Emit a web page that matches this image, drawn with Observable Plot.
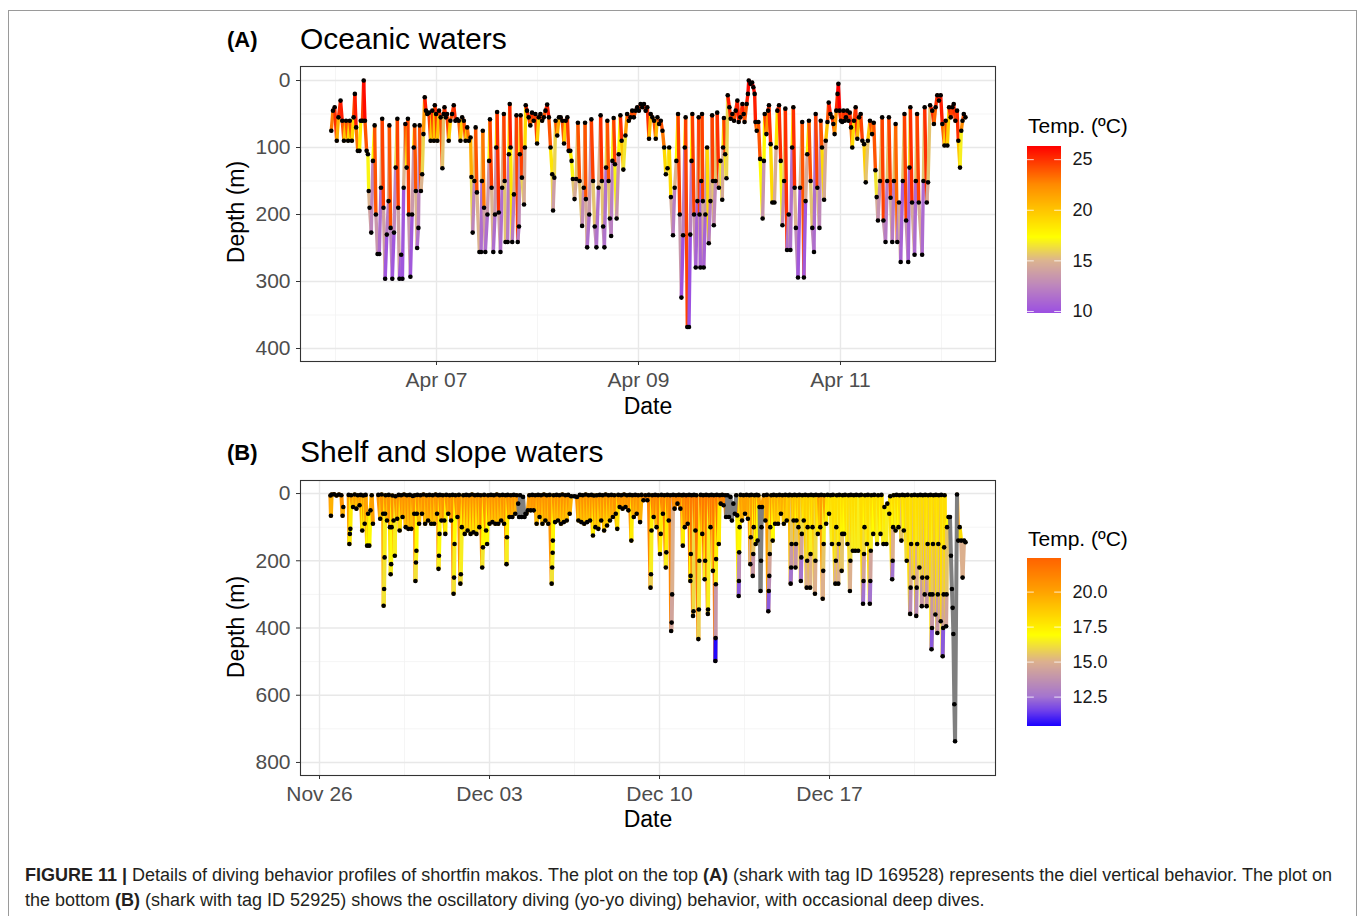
<!DOCTYPE html>
<html><head><meta charset="utf-8">
<script src="https://cdn.jsdelivr.net/npm/d3@7"></script>
<script src="https://cdn.jsdelivr.net/npm/@observablehq/plot@0.6"></script>
<style>
body{margin:0;background:#fff;font-family:"Liberation Sans",Arial,sans-serif;}
#fig{position:relative;width:1358px;height:916px;overflow:hidden;background:#fff;}
.abs{position:absolute;line-height:1;white-space:nowrap;color:#000;}
.cap{position:absolute;left:25px;top:863px;font-size:18px;line-height:25px;color:#231f20;white-space:nowrap;}
</style></head><body><div id="fig">
<div style="position:absolute;left:8px;top:10px;width:1347px;height:940px;border:1px solid #9a9a9a;"></div>
<div class="abs" style="left:227px;top:29px;font-size:22px;font-weight:bold;">(A)</div>
<div class="abs" style="left:300px;top:24px;font-size:30px;">Oceanic waters</div>
<div class="abs" style="left:227px;top:442px;font-size:22px;font-weight:bold;">(B)</div>
<div class="abs" style="left:300px;top:437px;font-size:30px;">Shelf and slope waters</div>
<div class="abs" style="left:236px;top:212px;font-size:23px;transform:translate(-50%,-50%) rotate(-90deg);">Depth (m)</div>
<div class="abs" style="left:236px;top:627px;font-size:23px;transform:translate(-50%,-50%) rotate(-90deg);">Depth (m)</div>
<div class="abs" style="left:648px;top:395px;font-size:23px;transform:translateX(-50%);">Date</div>
<div class="abs" style="left:648px;top:808px;font-size:23px;transform:translateX(-50%);">Date</div>
<div class="abs" style="left:1028px;top:115px;font-size:21px;">Temp. (ºC)</div>
<div class="abs" style="left:1028px;top:528px;font-size:21px;">Temp. (ºC)</div>
<div id="pA" style="position:absolute;left:200px;top:55px;"></div>
<div id="pB" style="position:absolute;left:200px;top:469px;"></div>
<div id="lA" style="position:absolute;left:1027px;top:136px;"></div>
<div id="lB" style="position:absolute;left:1027px;top:548px;"></div>
<div class="cap"><b>FIGURE 11 |</b> Details of diving behavior profiles of shortfin makos. The plot on the top <b>(A)</b> (shark with tag ID 169528) represents the diel vertical behavior. The plot on<br>the bottom <b>(B)</b> (shark with tag ID 52925) shows the oscillatory diving (yo-yo diving) behavior, with occasional deep dives.</div>
</div>
<script>
// ---- Panel A: [hours since Apr 05 00:00, depth (m), temperature (°C)]
const profileA = [
[23.0,75,23],[23.4,45,25],[23.8,40,25],[24.3,90,21],[24.7,55,25],[25.2,30,25.5],[25.6,60,24],[26.0,90,20],[26.5,60,24],[27.0,90,19],[27.4,60,24],[27.9,90,19],[28.3,55,24],[28.6,20,25.5],[28.9,70,23],[29.3,105,18],[29.7,105,18],[30.0,60,24],[30.4,60,24.5],[30.7,0,26],[31.0,60,24],[31.4,105,17],[31.7,110,17],
[31.9,165,15],[32.1,190,14],[32.5,227,12.5],[32.9,120,17.5],[33.3,67,24],[33.6,200,13.5],[34.0,259,11.3],[34.4,259,11.3],[34.8,160,15],[35.1,57,24.5],[35.4,190,14],[35.8,296,10.2],[36.2,230,12],[36.6,180,14.5],[36.8,67,24],[37.1,220,12.5],[37.5,296,10.2],[37.9,227,12.5],[38.3,130,16],[38.7,57,24.5],[38.9,190,14],[39.2,296,10.2],[39.6,260,11],[39.9,296,10.2],[40.2,160,15],[40.6,65,24],[40.9,130,17],[41.2,57,24.5],[41.4,200,13.5],[41.8,293,10.3],[42.2,200,13.5],[42.6,100,19],[42.8,67,24],[43.1,165,15],[43.4,250,11.5],[43.7,220,12.5],[44.0,67,24],[44.3,165,15],[44.6,140,16],[44.9,80,22],[45.2,25,25.5],
[45.5,45,25],[45.8,50,24.5],[46.2,48,24.5],[46.6,90,20],[47.0,45,25],[47.4,90,20],[47.6,37,25],[47.9,50,24.5],[48.2,90,20],[48.6,45,24.5],[49.0,55,24],[49.4,131,15.5],[49.7,50,24],[49.9,40,25],[50.2,55,24],[50.5,50,24.5],[50.9,90,19.5],[51.3,60,24],[51.7,50,24.5],[52.1,37,25],[52.5,60,24],[52.9,58,24],[53.3,60,23.5],[53.7,90,19.5],[54.1,55,24],[54.5,60,24],[54.9,90,20],[55.3,70,23],[55.7,90,20],
[56.1,85,21],[56.3,144,16],[56.6,227,12.5],[57.0,150,15.5],[57.3,70,24],[57.6,167,15],[58.2,256,11.3],[58.6,256,11.3],[58.8,150,15.5],[59.0,75,23],[59.3,190,14],[59.6,256,11.3],[60.1,200,13.5],[60.5,120,17],[60.7,58,24.5],[61.1,160,15],[61.5,256,11.3],[61.9,200,13.5],[62.2,100,19],[62.4,47,25],[62.8,197,14],[63.2,256,11.3],[63.6,160,15],[64.0,50,24.5],[64.2,150,15.5],[64.4,241,12],[64.9,241,12],[65.2,110,18],[65.4,35,25.5],[65.6,100,18.5],[66.0,241,12],[66.4,170,14.5],[67.0,52,24.5],[67.3,241,12],[67.6,218,12.8],[67.8,110,17],[68.0,52,24.5],[68.3,145,16],[68.8,185,14.5],[69.0,100,19],[69.2,37,25.5],
[69.5,45,25],[69.9,55,24.5],[70.3,67,23.5],[70.7,48,25],[71.1,60,24],[71.5,50,24.5],[71.9,94,19.5],[72.3,55,24],[72.7,50,24.5],[73.1,60,24],[73.5,55,24],[73.9,45,25],[74.3,36,25.5],[74.7,55,24],[75.1,100,18.5],[75.5,140,16],[75.7,194,13.8],[76.0,145,16],[76.3,60,24],[76.7,82,21],[77.1,55,24],[77.5,55,24.5],[77.9,60,24],[78.3,94,19.5],[78.7,60,24],[79.1,55,24.5],[79.4,105,18],
[79.8,105,18],[80.1,120,17],[80.4,147,15.5],[80.8,177,14.5],[81.2,147,15.5],[81.6,63,24],[82.0,150,15.5],[82.6,217,12.8],[83.0,160,15],[83.3,63,24],[83.5,177,14.5],[83.8,249,11.5],[84.3,200,13.5],[84.8,58,24.5],[85.2,150,15.5],[85.6,218,12.8],[86.0,249,11.5],[86.5,160,15],[87.0,52,25],[87.3,150,15.5],[87.6,218,12.8],[87.9,249,11.5],[88.3,130,16],[88.6,60,24],[88.9,150,15.5],[89.2,206,13.3],[89.5,232,12.2],[89.8,120,17],[90.1,56,24.5],[90.4,125,17],[90.8,206,13.3],[91.3,110,17.5],[91.7,52,25],[92.0,90,20],[92.4,133,16.5],[92.9,82,21.5],
[93.3,50,24.5],[93.7,60,24],[94.1,55,24],[94.5,45,24.5],[94.9,55,24],[95.3,45,24.5],[95.7,40,25],[96.1,45,24.5],[96.5,35,25],[96.9,40,25],[97.3,35,25],[97.7,45,24.5],[98.1,40,25],[98.5,87,20.5],[98.9,50,24.5],[99.3,55,24],[99.7,60,24],[100.1,87,20.5],[100.5,55,24],[100.9,65,23.5],[101.3,60,24],[101.7,75,23],[102.1,100,19],[102.5,140,16],
[102.9,131,16.5],[103.3,100,19],[103.7,174,14.5],[104.2,231,12.2],[104.6,160,15],[105.0,120,17.5],[105.4,50,24.5],[105.8,200,13.5],[106.2,324,10],[106.6,231,12.2],[107.0,100,19],[107.2,55,24.5],[107.6,368,9.9],[108.0,368,9.9],[108.3,230,12.2],[108.6,120,17.5],[108.8,50,24.5],[109.2,200,13.5],[109.6,279,10.8],[110.0,180,14.5],[110.3,55,24.5],[110.5,200,13.5],[110.7,279,10.8],[110.9,150,15.5],[111.1,50,24.5],[111.3,180,14.5],[111.5,279,10.8],[111.9,200,13.5],[112.3,100,19],[112.7,243,12],[113.1,180,14.5],[113.5,52,24.5],[113.7,150,15.5],[113.9,216,12.8],[114.3,150,15.5],[114.7,48,25],[115.1,160,15],[115.5,120,17],[115.9,178,14.5],[116.1,100,19],[116.3,56,24.5],[116.6,110,18],[116.9,146,16],[117.2,22,25.5],
[117.6,40,25],[117.9,57,24.5],[118.3,50,24.5],[118.7,60,24],[119.1,45,25],[119.5,30,25.5],[119.8,62,24],[120.2,55,24.5],[120.7,35,25.5],[121.0,50,24.5],[121.2,62,24],[121.7,35,25.5],[122.0,20,26],[122.2,0,26.3],[122.6,5,26.3],[123.0,3,26.3],[123.3,10,26],[123.6,20,25.5],[123.8,62,24],[124.1,75,22.5],
[124.5,62,24],[124.9,117,17.5],[125.5,206,13.3],[125.8,120,17.5],[126.0,50,24.5],[126.4,80,22],[126.8,45,25],[127.0,37,25],[127.4,95,19],[127.8,182,14.5],[128.3,182,14.5],[128.7,100,18.5],[129.0,45,25],[129.4,37,25],[129.8,120,17],[130.2,216,12.8],[130.6,150,15.5],[130.9,42,25],[131.3,253,11.5],[131.7,200,13.5],[132.1,253,11.5],[132.5,100,19],[132.8,40,25],[133.1,160,15],[133.4,220,12.7],[133.9,294,10.3],[134.4,160,15],[134.9,62,24],[135.3,294,10.3],[135.7,180,14.5],[136.1,110,17.5],[136.5,60,24],[136.9,150,15.5],[137.3,220,12.7],[137.7,256,11.3],[138.1,50,24.5],[138.5,160,15],[139.0,220,12.7],[139.3,60,24],[139.6,100,19],[140.1,178,14.5],[140.5,90,20],[140.9,62,24],
[141.2,33,25.5],[141.6,50,24.5],[142.0,55,24.5],[142.3,65,23.5],[142.6,80,22],[143.0,45,25],[143.3,20,26],[143.5,5,26.3],[143.8,45,25],[144.1,60,24],[144.4,62,24],[144.7,45,25],[145.0,60,24],[145.3,55,24.5],[145.6,45,25],[145.9,60,24],[146.2,48,25],[146.5,70,23],[146.8,100,19],[147.2,60,24],[147.6,40,25],[148.0,87,20.5],[148.4,55,24],[148.8,50,24.5],[149.2,90,20],
[149.6,95,19.5],[150.0,152,15.5],[150.5,90,20],[151.0,60,24],[151.5,80,22],[151.9,63,24],[152.3,134,16.5],[152.6,174,14.5],[152.9,209,13.2],[153.4,150,15.5],[153.9,55,24.5],[154.2,209,13.2],[154.7,241,12],[155.1,150,15.5],[155.5,55,24.5],[155.9,175,14.5],[156.3,241,12],[156.7,150,15.5],[157.1,65,23.5],[157.5,241,12],[157.9,182,14.5],[158.3,271,10.8],[158.8,150,15.5],[159.2,50,24.5],[159.6,209,13.2],[160.1,271,10.8],[160.4,130,16.5],[160.6,40,25],[161.0,182,14.5],[161.6,260,11.2],[161.9,150,15.5],[162.2,50,24.5],[162.6,182,14.5],[163.4,260,11.2],[163.7,150,15.5],[164.0,40,25],[164.5,182,14.5],[164.8,152,15.5],[165.3,37,25.5],
[165.8,45,25],[166.2,65,23.5],[166.6,40,25],[167.0,22,25.5],[167.4,30,25.5],[167.8,22,25.5],[168.2,65,23.5],[168.7,97,19.5],[169.0,60,24],[169.4,97,19.5],[169.8,40,25],[170.2,55,24.5],[170.6,40,25],[170.9,35,25],[171.3,60,24],[171.7,45,25],[172.0,90,20],[172.4,130,16.8],[172.7,75,22.5],[173.0,60,24],[173.3,50,24.5],[173.7,55,24.5]
];

// ---- Panel B: [days since Nov 26 00:00, depth (m), temperature (°C); null = no reading]
const profileB = [
[0.45,6,20.5],[0.47,66,19.5],[0.5,3,20.5],[0.6,2,20.5],[0.7,6,20.5],[0.8,3,20.5],[0.9,5,20.5],[0.95,66,19.5],[0.98,40,20],[0.99,null,null],
[1.2,4,20],[1.23,150,17.5],[1.25,120,17],[1.27,105,17.5],[1.3,5,20],[1.38,40,19],[1.45,3,20],[1.52,45,19],[1.58,5,20],[1.65,35,19.5],[1.7,4,20],[1.76,110,17.5],[1.8,6,20],[1.86,90,18],[1.9,4,20],[1.96,155,17],[2.0,60,18.5],[2.05,155,17],[2.1,50,19],[2.15,5,20],[2.2,90,18],[2.21,null,null],
[2.42,4,20.5],[2.5,75,19],[2.56,3,20.5],[2.62,60,19.5],[2.64,334,16.2],[2.66,284,16.2],[2.68,190,16.5],[2.7,60,17.5],[2.72,5,20.5],[2.78,80,19],[2.85,4,20.5],[2.9,100,18],[2.93,240,16.5],[2.95,210,16.8],[2.97,100,17.5],[3.0,6,20.5],[3.05,80,19],[3.1,185,16.5],[3.13,8,20.5],[3.2,75,19],[3.26,4,20.5],[3.3,110,18],
[3.36,5,20.5],[3.42,70,19.5],[3.48,3,20.5],[3.55,100,19],[3.6,5,20.5],[3.66,105,19],[3.72,4,20.5],[3.78,105,19],[3.84,7,20.5],[3.9,60,19.5],[3.93,5,20.5],[3.95,260,16.2],[3.97,205,16.5],[3.99,170,17],[4.01,60,17.5],[4.03,4,20.5],
[4.1,90,19],[4.16,5,20.5],[4.22,60,19.5],[4.28,3,20.5],[4.35,90,19],[4.41,5,20.5],[4.47,80,19.5],[4.53,4,20.5],[4.6,90,19],[4.66,5,20.5],[4.72,90,19],[4.78,3,20.5],[4.84,60,19.5],[4.88,5,20.5],[4.9,224,16.5],[4.92,185,16.8],[4.94,120,17.2],[4.96,4,20.5],
[5.02,80,19.5],[5.08,5,20.5],[5.14,80,19.5],[5.18,120,17.5],[5.22,4,20.5],[5.3,60,19.5],[5.36,5,20.5],[5.42,80,19.5],[5.48,4,20.5],[5.52,298,16.2],[5.54,250,16.5],[5.56,150,17],[5.6,5,20.5],[5.68,70,19.5],[5.74,4,20.5],[5.8,268,16.2],[5.82,240,16.5],[5.86,100,17.5],[5.92,5,20.5],
[5.98,120,18],[6.04,4,20.5],[6.1,110,18.5],[6.16,5,20.5],[6.22,120,18],[6.28,3,20.5],[6.34,115,18],[6.4,5,20.5],[6.46,120,18],[6.52,4,20.5],[6.58,100,18.5],[6.64,5,20.5],[6.7,220,16.3],[6.73,160,17],[6.78,4,20.5],[6.86,110,17.5],[6.9,150,17],[6.94,5,20.5],
[7.0,90,19],[7.06,4,20.5],[7.12,85,19],[7.18,5,20.5],[7.24,90,19],[7.3,3,20.5],[7.36,90,19],[7.42,5,20.5],[7.48,80,19],[7.54,4,20.5],[7.6,90,19],[7.66,5,20.5],[7.7,210,16.5],[7.72,130,17.5],[7.75,4,20.5],[7.82,70,19.5],[7.88,5,20.5],[7.94,70,19.5],[8.0,4,20.5],[8.06,60,19.5],[8.12,5,20.5],
[8.18,30,null],[8.22,70,null],[8.26,5,null],[8.32,70,null],[8.38,10,null],[8.44,70,null],[8.48,60,null],
[8.52,60,20],[8.58,50,20],[8.64,5,20.5],[8.7,50,20],[8.76,4,20.5],[8.82,50,20],[8.88,5,20.5],[8.94,90,19],[9.0,4,20.5],[9.06,70,19.5],[9.12,5,20.5],[9.18,90,19],[9.24,3,20.5],[9.3,80,19.5],[9.36,5,20.5],[9.42,90,19],[9.48,4,20.5],[9.56,268,16.2],[9.58,220,16.5],[9.6,176,16.8],[9.61,140,17.2],[9.64,5,20.5],
[9.7,85,19],[9.76,4,20.5],[9.82,80,19],[9.88,5,20.5],[9.94,90,19],[10.0,3,20.5],[10.06,85,19],[10.12,5,20.5],[10.18,80,19],[10.24,4,20.5],[10.3,60,19.5],[10.36,8,null],[10.5,8,null],[10.6,10,20.5],[10.66,80,19],[10.72,4,20.5],[10.78,85,19],[10.84,5,20.5],[10.9,90,19],[10.96,3,20.5],[11.02,85,19],[11.08,5,20.5],[11.14,80,19],[11.2,4,20.5],[11.26,125,17.5],[11.3,6,20.5],
[11.36,100,18.5],[11.42,5,20.5],[11.48,105,18.5],[11.54,4,20.5],[11.6,80,19],[11.66,5,20.5],[11.72,110,18.5],[11.78,3,20.5],[11.84,95,18.5],[11.9,5,20.5],[11.96,80,19],[12.02,4,20.5],[12.08,70,19.5],[12.14,5,20.5],[12.2,60,19.5],[12.26,105,18],[12.3,4,20.5],[12.36,40,20],[12.42,5,20.5],[12.48,45,20],[12.54,3,20.5],[12.6,40,20],[12.66,5,20.5],[12.72,50,20],[12.78,4,20.5],[12.84,140,17.5],[12.88,5,20.5],[12.94,70,19.5],[13.0,4,20.5],[13.06,60,19.5],[13.12,5,20.5],
[13.2,85,19.5],[13.26,4,21],[13.34,20,21],[13.42,5,21],[13.5,20,21],[13.56,4,21],[13.63,280,15.8],[13.65,240,16.5],[13.67,110,17.5],[13.7,5,21],[13.76,70,20],[13.82,4,21],[13.88,100,19],[13.94,5,21],[14.02,180,17.5],[14.05,120,17.5],[14.08,4,21],[14.14,60,20],[14.2,5,21],[14.26,220,16.5],[14.28,175,17.5],[14.32,4,21],[14.38,80,19.5],[14.44,5,21],[14.48,409,14.5],[14.5,384,14.5],[14.52,300,15],[14.56,4,21],[14.62,45,20.5],[14.68,5,21],[14.74,30,21],[14.8,4,21],[14.86,45,20.5],[14.92,5,21],
[14.96,155,17.5],[14.99,4,21],[15.04,100,20],[15.1,5,21.5],[15.16,90,20],[15.22,4,21.5],[15.27,260,16.5],[15.28,245,17],[15.29,180,17.5],[15.32,5,21.5],[15.38,364,15.5],[15.4,350,16],[15.42,4,21.5],[15.48,110,19],[15.52,5,21.5],[15.6,433,15.8],[15.62,345,16.2],[15.64,200,17.5],[15.7,4,21.5],[15.76,120,18],[15.8,5,21.5],[15.86,255,16.5],[15.88,200,17.5],[15.92,4,21.5],[15.99,358,16],[16.0,345,16.5],[16.04,5,21.5],[16.1,100,19.5],[16.14,4,21.5],[16.2,230,16.5],[16.24,5,21.5],[16.3,498,10.5],[16.31,430,14],[16.32,270,16.5],[16.33,195,17.5],[16.36,4,21.5],[16.44,150,17.5],[16.48,5,21.5],
[16.52,30,21],[16.58,4,21],[16.64,35,21],[16.7,5,21],[16.74,70,null],[16.8,5,null],[16.86,70,null],[16.92,10,null],[16.98,80,null],[17.04,30,null],[17.1,60,null],
[17.16,5,20],[17.2,65,17.5],[17.26,305,12],[17.27,260,13.5],[17.28,175,17],[17.3,100,17.5],[17.34,4,20],[17.4,80,19.5],[17.46,5,20],[17.52,60,20],[17.58,4,20],[17.64,75,19.5],[17.7,5,20],[17.74,210,15],[17.76,130,16.5],[17.78,4,20],[17.84,245,14],[17.86,180,15.5],[17.88,100,17],[17.91,5,20],[17.96,150,17],[18.0,4,20],[18.04,140,17],[18.07,5,20],
[18.12,40,null],[18.16,290,null],[18.18,200,null],[18.2,100,null],[18.22,40,20],
[18.3,5,20],[18.36,80,19],[18.42,4,20],[18.48,350,12],[18.5,290,13.5],[18.52,245,14.5],[18.54,180,15.5],[18.56,100,17],[18.6,5,20],[18.66,140,17],[18.7,4,19.5],[18.76,90,18.5],[18.82,5,19.5],[18.88,90,18.5],[18.94,4,19.5],[19.0,60,19],[19.06,5,19.5],[19.12,90,18.5],[19.18,4,19.5],[19.24,80,18.5],[19.3,5,19.5],
[19.36,4,19],[19.4,268,12.5],[19.42,220,14],[19.44,150,15.5],[19.46,5,19],[19.52,80,18],[19.56,4,19],[19.6,220,14],[19.62,150,15.5],[19.64,80,17],[19.66,5,19],[19.72,100,17.5],[19.76,4,19],[19.82,260,12.5],[19.84,190,14.5],[19.86,120,16],[19.88,5,18.5],
[19.94,80,17.5],[20.0,4,18.5],[20.06,280,15],[20.08,200,16],[20.1,100,17.5],[20.12,5,18.5],[20.2,280,15],[20.22,180,16.5],[20.24,4,18.5],[20.3,100,17.5],[20.34,5,18.5],[20.4,298,15],[20.42,200,16],[20.44,4,18.5],[20.52,120,17.5],[20.56,5,20],[20.62,100,18],[20.66,4,20],[20.72,313,15],[20.74,230,15.5],[20.76,150,16.5],[20.78,5,20],
[20.86,90,17.5],[20.92,4,18],[20.98,60,17.5],[21.04,5,18],[21.1,150,16.5],[21.14,4,18],[21.24,268,15],[21.26,200,16],[21.28,100,17.5],[21.3,5,18],[21.36,268,15],[21.38,150,16.5],[21.4,4,18],[21.5,230,15.5],[21.52,120,17],[21.54,5,18],[21.6,120,17],[21.64,4,18],[21.74,150,16.5],[21.78,5,18],[21.84,290,15],[21.86,200,16],[21.88,4,18],
[21.96,170,16.5],[22.0,5,18],[22.06,170,16.5],[22.1,4,18],[22.18,170,16.5],[22.22,5,18],[22.3,4,18],[22.38,328,12.5],[22.4,260,14.5],[22.42,180,16],[22.44,100,17],[22.46,5,18],[22.54,150,16.5],[22.58,4,18],[22.66,328,12.5],[22.68,260,14.5],[22.7,170,16.5],[22.72,5,18],
[22.8,120,17],[22.84,4,18],[22.96,150,16.5],[23.0,5,18],[23.1,120,17],[23.14,4,18],[23.22,150,16.5],[23.26,40,17.5],[23.34,150,16.5],[23.38,30,17.5],[23.46,60,17.5],[23.5,8,18],[23.58,255,12.5],[23.6,200,15],[23.62,100,17],[23.64,5,18],
[23.72,110,16.5],[23.76,4,18],[23.84,100,17],[23.88,5,18],[23.96,140,15.5],[24.0,4,18],[24.06,110,17],[24.1,5,18],[24.18,200,16],[24.22,4,18],[24.32,358,13.5],[24.34,280,15],[24.36,150,16.5],[24.38,5,18],[24.46,250,15.5],[24.5,4,18],[24.57,364,13.5],[24.59,280,15],[24.61,150,16.5],[24.63,5,18],[24.7,220,16],[24.74,4,18],[24.8,335,14],[24.82,250,15.5],[24.84,5,18],[24.92,300,15],[24.94,4,18],[25.0,335,14],[25.02,250,15.5],[25.04,150,16.5],[25.06,5,18],
[25.14,300,15],[25.16,4,18],[25.2,463,12],[25.22,400,14],[25.24,300,15.5],[25.26,150,16.5],[25.28,5,18],[25.36,360,14.5],[25.38,4,18],[25.44,415,14],[25.46,300,15.5],[25.48,150,16.5],[25.5,5,18],[25.58,380,14.5],[25.6,4,18],[25.66,484,12],[25.68,400,14.5],[25.7,300,15.5],[25.72,160,16.5],[25.74,5,18],[25.8,395,14.5],[25.82,300,15.5],[25.84,100,17],
[25.9,70,null],[25.96,70,null],[26.0,185,null],[26.04,284,null],[26.07,340,null],[26.1,418,null],[26.14,627,null],[26.17,737,null],
[26.25,3,20],[26.3,140,17.5],[26.36,100,18],[26.42,140,15],[26.48,250,15],[26.54,140,16],[26.6,145,16]
];

// ---- axes, ticks and colour stops
const startA = Date.UTC(2019, 3, 5);
const startB = Date.UTC(2018, 10, 26);
const xDomainA = ["2019-04-05T15:41Z", "2019-04-12T12:50Z"];
const xDomainB = ["2018-11-25T05:13Z", "2018-12-23T20:02Z"];
const yDomainA = [-20.9, 419.4];
const yDomainB = [-38.8, 838.8];
const dateTicksA = ["2019-04-07", "2019-04-09", "2019-04-11"];
const dateMinorA = ["2019-04-06", "2019-04-08", "2019-04-10", "2019-04-12"];
const depthTicksA = [0, 100, 200, 300, 400];
const depthMinorA = [50, 150, 250, 350];
const dateTicksB = ["2018-11-26", "2018-12-03", "2018-12-10", "2018-12-17"];
const dateMinorB = ["2018-11-29T12:00Z", "2018-12-06T12:00Z", "2018-12-13T12:00Z", "2018-12-20T12:00Z"];
const depthTicksB = [0, 200, 400, 600, 800];
const depthMinorB = [100, 300, 500, 700];
const legendTicksA = [10, 15, 20, 25];
const legendTicksB = [12.5, 15, 17.5, 20];
const tempRangeA = [9.8, 26.3];
const tempRangeB = [10.4, 22.4];
const stopsA = [9.8, 12.5, 15, 17.3, 20, 22.5, 26.3];
const coloursA = ["#9b4fe2", "#bd86bd", "#dcb48f", "#ffff00", "#ffc400", "#ff8a00", "#ff0000"];
const stopsB = [10.4, 11.5, 12.5, 15, 16.9, 20, 22.4];
const coloursB = ["#1a00ff", "#7040ea", "#a474cf", "#dcb08e", "#ffff00", "#ffa200", "#ff6200"];

const FONT = '"Liberation Sans", Arial, sans-serif';
const utc = s => new Date(s.length <= 10 ? s + "T00:00Z" : s);

function colourScale(range, stops, colours) {
  const pw = d3.scaleLinear().domain(stops).range(colours).interpolate(d3.interpolateRgb).clamp(true);
  const [lo, hi] = range;
  return {type: "linear", domain: range, interpolate: t => pw(lo + t * (hi - lo))};
}

function build(profile, t0, unit) {
  const pts = profile.map(([t, d, T]) => ({date: new Date(t0 + t * unit), depth: d, temp: T}));
  const seg = [], na = [];
  for (let i = 0; i + 1 < pts.length; i++) {
    const a = pts[i], b = pts[i + 1];
    if (a.depth == null || b.depth == null) continue;
    const s = {x1: a.date, y1: a.depth, x2: b.date, y2: b.depth, temp: a.temp};
    (a.temp == null ? na : seg).push(s);
  }
  return {pts: pts.filter(p => p.depth != null), seg, na};
}

function panel(o) {
  const lk = {x1: "x1", y1: "y1", x2: "x2", y2: "y2", strokeWidth: o.lw, strokeLinecap: "round"};
  return Plot.plot({
    width: 800, height: 346, marginLeft: 100, marginRight: 5, marginTop: 11, marginBottom: 40,
    style: {fontFamily: FONT, background: "transparent", overflow: "visible"},
    x: {type: "utc", domain: o.xDomain.map(utc)},
    y: {domain: o.yDomain, reverse: true},
    color: o.color,
    marks: [
      Plot.ruleX(o.xMinor.map(utc), {stroke: "#f2f2f2", strokeWidth: 0.8}),
      Plot.ruleY(o.yMinor, {stroke: "#f2f2f2", strokeWidth: 0.8}),
      Plot.ruleX(o.xTicks.map(utc), {stroke: "#e8e8e8", strokeWidth: 1.4}),
      Plot.ruleY(o.yTicks, {stroke: "#e8e8e8", strokeWidth: 1.4}),
      Plot.link(o.data.seg, {...lk, stroke: "temp"}),
      Plot.link(o.data.na, {...lk, stroke: "#7f7f7f"}),
      Plot.dot(o.data.pts, {x: "date", y: "depth", r: 2.3, fill: "black"}),
      Plot.frame({stroke: "#333333", strokeWidth: 1.1}),
      Plot.axisX(o.xTicks.map(utc), {tickFormat: d3.utcFormat("%b %d"), tickSize: 4, tickPadding: 7, fontSize: 21, stroke: "#333333", fill: "#4d4d4d", label: null}),
      Plot.axisY(o.yTicks, {tickSize: 4, tickPadding: 6, fontSize: 21, stroke: "#333333", fill: "#4d4d4d", label: null})
    ]
  });
}

function colourbar(range, ticks, fmt, color, barH) {
  const [lo, hi] = range, n = barH, step = (hi - lo) / n;
  const cells = d3.range(0, n).map(i => lo + i * step);
  return Plot.plot({
    width: 110, height: barH + 20, marginLeft: 0, marginRight: 76, marginTop: 10, marginBottom: 10,
    style: {fontFamily: FONT, background: "transparent", overflow: "visible"},
    x: {domain: [0, 1], axis: null},
    y: {domain: range},
    color,
    marks: [
      Plot.rect(cells, {x1: 0, x2: 1, y1: d => d, y2: d => Math.min(hi, d + step * 2), fill: d => d + step / 2, shapeRendering: "crispEdges"}),
      Plot.ruleY(ticks, {x1: 0, x2: 0.2, stroke: "white", strokeOpacity: 0.8, strokeWidth: 1}),
      Plot.ruleY(ticks, {x1: 0.8, x2: 1, stroke: "white", strokeOpacity: 0.8, strokeWidth: 1}),
      Plot.axisY(ticks, {anchor: "right", tickSize: 0, tickPadding: 11, fontSize: 18, fill: "#1a1a1a", tickFormat: fmt, label: null})
    ]
  });
}

const colorA = colourScale(tempRangeA, stopsA, coloursA);
const colorB = colourScale(tempRangeB, stopsB, coloursB);

document.getElementById("pA").append(panel({
  data: build(profileA, startA, 3600e3), xDomain: xDomainA, yDomain: yDomainA, lw: 3.4,
  xTicks: dateTicksA, xMinor: dateMinorA, yTicks: depthTicksA, yMinor: depthMinorA, color: colorA
}));
document.getElementById("pB").append(panel({
  data: build(profileB, startB, 864e5), xDomain: xDomainB, yDomain: yDomainB, lw: 4,
  xTicks: dateTicksB, xMinor: dateMinorB, yTicks: depthTicksB, yMinor: depthMinorB, color: colorB
}));
document.getElementById("lA").append(colourbar(tempRangeA, legendTicksA, d3.format("d"), colorA, 167));
document.getElementById("lB").append(colourbar(tempRangeB, legendTicksB, d3.format(".1f"), colorB, 168));
</script>
</body></html>
